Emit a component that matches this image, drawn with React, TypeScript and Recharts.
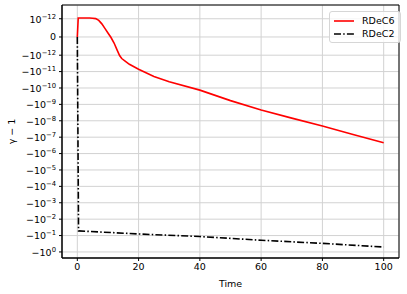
import React from 'react';
import {
  LineChart,
  Line,
  XAxis,
  YAxis,
  CartesianGrid,
  ReferenceArea,
} from 'recharts';

// symlog scale: linthresh 1e-12, linscale 1 (base 10)
const LINTHRESH = 1e-12;
const LINSCALE = 1 / (1 - 1 / 10);

const symlog = (v: number) => {
  const a = Math.abs(v);
  if (a <= LINTHRESH) return (v / LINTHRESH) * LINSCALE;
  return Math.sign(v) * (LINSCALE + Math.log10(a / LINTHRESH));
};

// RDeC6
const rdec6Time = [0, 0.3, 3, 4, 5, 6, 7, 8, 9, 10, 11, 12, 13, 13.8, 14.5, 15.5, 17, 20, 25, 30, 40, 50, 60, 70, 80, 90, 100];
const rdec6Value = [
  0, 1.12e-12, 1.12e-12, 1.11e-12, 1.08e-12, 1.02e-12, 0.91e-12, 0.72e-12, 0.47e-12, 0.22e-12, -0.03e-12, -0.33e-12,
  -0.72e-12, -1.05e-12, -1.6e-12, -2.2e-12, -3.6e-12, -7.2e-12, -2.0e-11, -4.2e-11, -1.35e-10, -5.9e-10, -2.2e-9,
  -6.9e-9, -2.1e-8, -6.9e-8, -2.2e-7,
];

// RDeC2
const rdec2Time = [0, 0.4, 20, 40, 60, 80, 100];
const rdec2Value = [0, -0.052, -0.08, -0.115, -0.193, -0.3, -0.5];

const xTicks = [0, 20, 40, 60, 80, 100];
const yTickValues = [1e-12, 0, -1e-12, -1e-11, -1e-10, -1e-9, -1e-8, -1e-7, -1e-6, -1e-5, -1e-4, -1e-3, -1e-2, -1e-1, -1];

const seriesNames = ['RDeC6', 'RDeC2'];

const FONT = '"DejaVu Sans", sans-serif';
const DASHDOT = '7 2.2 1.5 2.2';

const rdec6Data = rdec6Time.map((t, i) => ({ t, y: symlog(rdec6Value[i]) }));
const rdec2Data = rdec2Time.map((t, i) => ({ t, y: symlog(rdec2Value[i]) }));
const yTicks = yTickValues.map(symlog);

const Y_MIN = -13.48;
const Y_MAX = 1.95;

function YTick(props: any) {
  const { x, y, payload } = props;
  const v = yTickValues.find((tv) => Math.abs(symlog(tv) - payload.value) < 1e-6);
  if (v === undefined) return null;
  if (v === 0) {
    return (
      <text x={x} y={y} dy="0.35em" textAnchor="end" fontSize={9.5} fontFamily={FONT} fill="#000">
        0
      </text>
    );
  }
  const sign = v < 0 ? '\u2212' : '';
  const exp = Math.round(Math.log10(Math.abs(v)));
  const expStr = exp < 0 ? '\u2212' + Math.abs(exp) : String(exp);
  return (
    <text x={x} y={y} dy="0.4em" textAnchor="end" fontSize={9.5} fontFamily={FONT} fill="#000">
      <tspan>{sign}10</tspan>
      <tspan dy={-4} fontSize={6.8}>
        {expStr}
      </tspan>
    </text>
  );
}

function LegendBox() {
  return (
    <div
      style={{
        position: 'absolute',
        left: 329,
        top: 11,
        border: '1px solid #d6d6d6',
        borderRadius: 3,
        background: 'rgba(255,255,255,0.8)',
        padding: '2px 6px 2px 3px',
        fontFamily: FONT,
        fontSize: 9.5,
        color: '#000',
        lineHeight: '13px',
      }}
    >
      {seriesNames.map((name, i) => (
        <div key={name} style={{ display: 'flex', alignItems: 'center' }}>
          <svg width={22} height={10} style={{ marginRight: 7 }}>
            <line
              x1={1}
              x2={21}
              y1={5}
              y2={5}
              stroke={i === 0 ? '#ff0000' : '#000'}
              strokeWidth={1.6}
              strokeDasharray={i === 0 ? undefined : DASHDOT}
            />
          </svg>
          <span>{name}</span>
        </div>
      ))}
    </div>
  );
}

export default function App() {
  return (
    <div style={{ position: 'absolute', left: 0, top: 0, width: 407, height: 294, background: '#fff' }}>
      <LineChart width={407} height={294} margin={{ top: 5, right: 8, bottom: 0, left: 0 }}>
        <CartesianGrid stroke="#d2d2d2" strokeWidth={1} />
        <XAxis
          type="number"
          dataKey="t"
          domain={[-5, 105]}
          ticks={xTicks}
          allowDataOverflow
          height={36}
          tickSize={3}
          tickMargin={2}
          stroke="#000"
          tick={{ fill: '#000', fontSize: 9.5, fontFamily: FONT }}
          label={{ value: 'Time', position: 'insideBottom', offset: 7, fill: '#000', fontSize: 9.5, fontFamily: FONT }}
        />
        <YAxis
          type="number"
          dataKey="y"
          domain={[Y_MIN, Y_MAX]}
          ticks={yTicks}
          allowDataOverflow
          width={62}
          tickSize={3}
          tickMargin={3}
          stroke="#000"
          tick={<YTick />}
          interval={0}
          label={() => (
            <text
              x={11}
              y={131.5}
              transform="rotate(-90 11 131.5)"
              textAnchor="middle"
              dominantBaseline="central"
              fontSize={9.5}
              fontFamily={FONT}
              fill="#000"
            >
              {'\u03b3 \u2212 1'}
            </text>
          )}
        />
        <Line
          data={rdec6Data}
          dataKey="y"
          name={seriesNames[0]}
          type="linear"
          stroke="#ff0000"
          strokeWidth={1.6}
          dot={false}
          isAnimationActive={false}
        />
        <Line
          data={rdec2Data}
          dataKey="y"
          name={seriesNames[1]}
          type="linear"
          stroke="#000"
          strokeWidth={1.6}
          strokeDasharray={DASHDOT}
          dot={false}
          isAnimationActive={false}
        />
        <ReferenceArea x1={-5} x2={105} y1={Y_MIN} y2={Y_MAX} fill="none" stroke="#000" strokeWidth={1} ifOverflow="visible" />
      </LineChart>
      <LegendBox />
    </div>
  );
}
